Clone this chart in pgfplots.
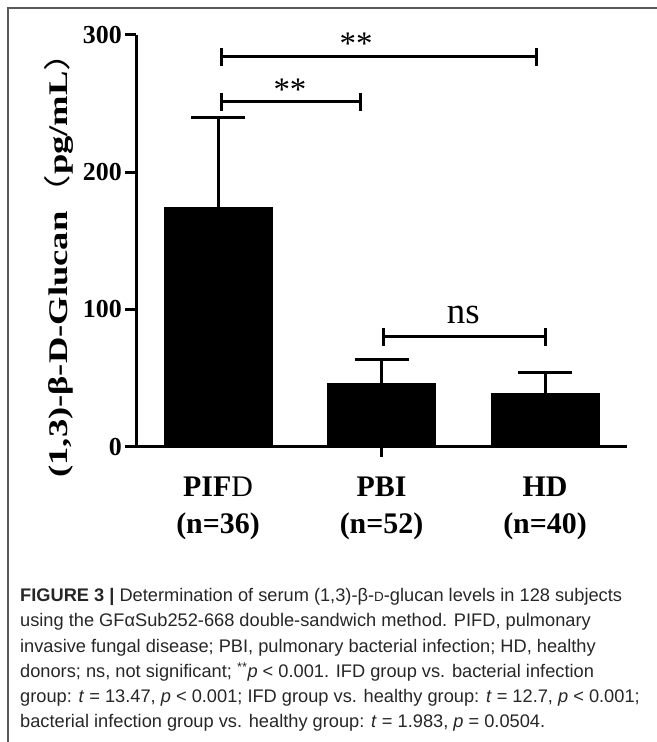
\documentclass[border=0pt]{standalone}
\usepackage{pgfplots}
\pgfplotsset{compat=1.18}
\usepackage{fontspec}
\setmainfont{Liberation Serif}
\newfontfamily\capfont{Liberation Sans}
\newfontfamily\cjk{Noto Sans CJK SC}
\newfontfamily\wideserif[FakeStretch=1.36]{Liberation Serif}
\newfontfamily\widecjk[FakeStretch=1.36]{Noto Sans CJK SC}
\begin{document}
\begin{tikzpicture}[x=1bp,y=1bp]
\path[use as bounding box] (0,0) rectangle (657,742);
\draw[line width=2bp, black!65] (8,0) -- (8,734) -- (657,734);
\begin{axis}[
  at={(136.25bp,295.3bp)}, anchor=south west,
  scale only axis, width=490.5bp, height=411.7bp,
  xmin=-0.5, xmax=2.5, ymin=0, ymax=300,
  axis x line=bottom, axis y line=left,
  axis line style={-, line width=3bp},
  clip=false,
  /pgf/number format/assume math mode=true,
  ytick={0,100,200,300},
  yticklabels={0,100,200,300},
  ytick style={line width=3bp, black},
  tick align=outside,
  major tick length=11bp,
  yticklabel style={font=\fontsize{26}{26}\selectfont\bfseries},
  xtick={0,1,2},
  xticklabels={{\textbf{PIF}D\\\textbf{(n=36)}},{\textbf{PBI}\\\textbf{(n=52)}},{\textbf{HD}\\\textbf{(n=40)}}},
  xticklabel style={align=center, font=\fontsize{30}{37}\selectfont, yshift=-16bp},
  xtick style={draw=none},
  extra x ticks={1},
  extra x tick labels={},
  extra x tick style={xtick style={draw=black, line width=3bp}, major tick length=10bp},
  ylabel={{\wideserif\bfseries (1,3)-β-D-Glucan}{\widecjk （}{\wideserif\bfseries pg/mL}{\widecjk ）}},
  ylabel style={at={(rel axis cs:-0.157,0.463)}, anchor=center, font=\fontsize{27}{27}\selectfont},
]
\addplot[ybar, bar width=108bp, bar shift=0pt, fill=black, draw=black,
  error bars/.cd, y dir=plus, y explicit,
  error bar style={line width=3bp, black},
  error mark options={rotate=90, mark size=27bp, line width=3bp, black}]
  coordinates {(0,174.5) +- (0,65.6) (1,46.2) +- (0,17.5) (2,38.9) +- (0,15.0)};
% significance brackets
\draw[line width=3bp] (axis cs:0.02,284.2) -- (axis cs:1.95,284.2);
\draw[line width=3bp] (axis cs:0.02,277.6) -- (axis cs:0.02,290.8);
\draw[line width=3bp] (axis cs:1.95,277.6) -- (axis cs:1.95,290.8);
\draw[line width=3bp] (axis cs:0.02,251.4) -- (axis cs:0.87,251.4);
\draw[line width=3bp] (axis cs:0.02,244.8) -- (axis cs:0.02,258.0);
\draw[line width=3bp] (axis cs:0.87,244.8) -- (axis cs:0.87,258.0);
\draw[line width=3bp] (axis cs:1.01,80.2) -- (axis cs:2.0,80.2);
\draw[line width=3bp] (axis cs:1.01,73.6) -- (axis cs:1.01,86.8);
\draw[line width=3bp] (axis cs:2.0,73.6) -- (axis cs:2.0,86.8);
\node[anchor=base, font=\fontsize{33}{33}\selectfont] at (axis cs:0.844,285.5) {**};
\node[anchor=base, font=\fontsize{33}{33}\selectfont] at (axis cs:0.44,252.5) {**};
\node[anchor=base, font=\fontsize{37}{37}\selectfont] at (axis cs:1.5,90.1) {ns};
\end{axis}
\node[anchor=base west, align=left, inner sep=0pt, text=black!85, font=\capfont\fontsize{18.3}{25.4}\selectfont] at (20,14) {%
\textbf{FIGURE 3 |} Determination of serum (1,3)-β-{\fontsize{13.5}{13.5}\selectfont D}-glucan levels in 128 subjects\\
using the GFαSub252-668 double-sandwich method. PIFD, pulmonary\\
invasive fungal disease; PBI, pulmonary bacterial infection; HD, healthy\\
donors; ns, not significant; \textsuperscript{**}\textit{p} \textless{} 0.001. IFD group vs. bacterial infection\\
group: \textit{t} = 13.47, \textit{p} \textless{} 0.001; IFD group vs. healthy group: \textit{t} = 12.7, \textit{p} \textless{} 0.001;\\
bacterial infection group vs. healthy group: \textit{t} = 1.983, \textit{p} = 0.0504.};
\end{tikzpicture}
\end{document}
